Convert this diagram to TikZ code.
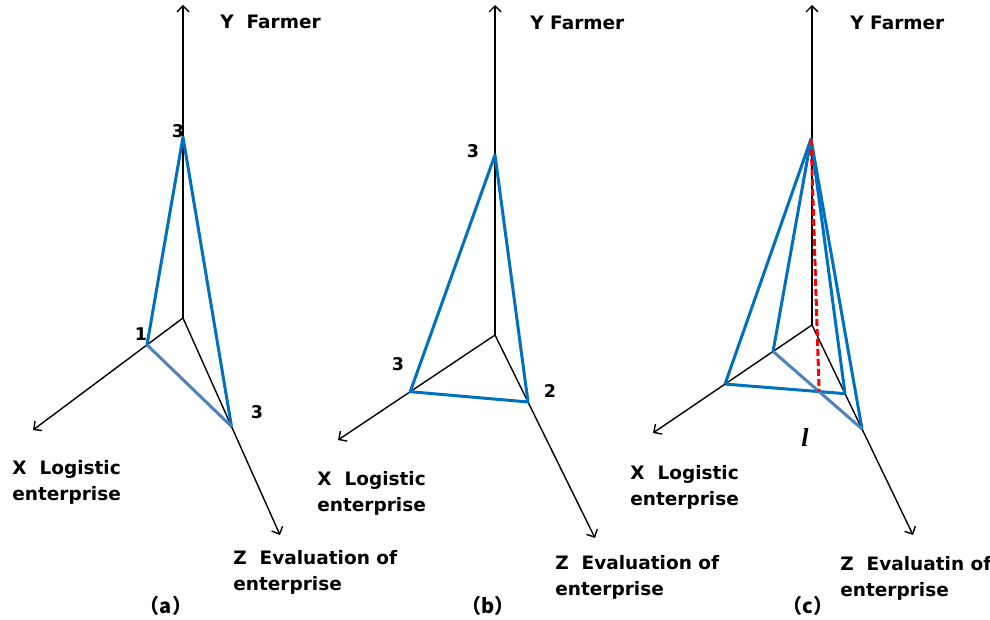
\documentclass[tikz,border=0pt]{standalone}
\usepackage{fontspec}
\setmainfont{DejaVu Sans}
\newfontfamily\cjk{Noto Sans CJK SC}
\newfontfamily\serifb{Liberation Serif}
\usetikzlibrary{arrows.meta,calc}

\definecolor{edgeblue}{RGB}{0,112,192}
\definecolor{edgesteel}{RGB}{79,129,189}
\tikzset{
  every picture/.style={line width=0.75pt},
  axis/.style={-{Straight Barb[length=6pt,width=12pt]}, line width=1.4pt},
  edge/.style={edgeblue, line width=3pt, line join=round},
  edgelight/.style={edgesteel, line width=3pt},
  dashline/.style={red, line width=3pt, dash pattern={on 7pt off 3pt}},
  lab/.style={anchor=north west, inner sep=0pt, align=left, font=\bfseries\fontsize{18.5}{26}\selectfont},
  num/.style={inner sep=0pt, font=\bfseries\fontsize{17.5}{20}\selectfont},
  subcap/.style={inner sep=0pt, font=\cjk\bfseries\fontsize{20}{24}\selectfont}
}

\begin{document}
\begin{tikzpicture}[x=1pt, y=-1pt]
    \useasboundingbox (0,0) rectangle (990,620);

    % (a)
    \coordinate (Oa) at (183,318);
    \coordinate (Ya) at (183,5);
    \coordinate (Xa) at (33,430);
    \coordinate (Za) at (280,535);
    \coordinate (ya) at (183,137);
    \coordinate (xa) at ($(Oa)!0.24!(Xa)$);
    \coordinate (za) at ($(Oa)!0.5!(Za)$);
    \draw[axis] (Oa) -- (Ya);
    \draw[axis] (Oa) -- (Xa);
    \draw[axis] (Oa) -- (Za);
    \draw[edge] (xa) -- (ya) -- (za);
    \draw[edgelight] (xa) -- (za);
    \node[num] (na1) at (178,131) {3};
    \node[num] (na2) at (141,334) {1};
    \node[num] (na3) at (257,412) {3};
    \node[lab] (ylaba) at (220,15) {Y~~Farmer};
    \node[lab] (xlaba) at (12,460) {X~~Logistic\\enterprise};
    \node[lab] (zlaba) at (233,550) {Z~~Evaluation of\\enterprise};
    \node[subcap] (capa) at (166,606) {（a）};

    % (b)
    \coordinate (Ob) at (495,335);
    \coordinate (Yb) at (495,5);
    \coordinate (Xb) at (338,440);
    \coordinate (Zb) at (595,538);
    \coordinate (yb) at (495,155);
    \coordinate (xb) at ($(Ob)!0.54!(Xb)$);
    \coordinate (zb) at ($(Ob)!0.33!(Zb)$);
    \draw[axis] (Ob) -- (Yb);
    \draw[axis] (Ob) -- (Xb);
    \draw[axis] (Ob) -- (Zb);
    \draw[edge] (xb) -- (yb) -- (zb) -- cycle;
    \node[num] (nb1) at (473,151) {3};
    \node[num] (nb2) at (398,364) {3};
    \node[num] (nb3) at (550,391) {2};
    \node[lab] (ylabb) at (530,16) {Y Farmer};
    \node[lab] (xlabb) at (317,471) {X~~Logistic\\enterprise};
    \node[lab] (zlabb) at (555,555) {Z~~Evaluation of\\enterprise};
    \node[subcap] (capb) at (488,606) {（b）};

    % (c)
    \coordinate (Oc) at (812,325);
    \coordinate (Yc) at (812,5);
    \coordinate (Xc) at (653,433);
    \coordinate (Zc) at (913,535);
    \coordinate (yc) at (811,139);
    \coordinate (xfar) at ($(Oc)!0.547!(Xc)$);
    \coordinate (xnear) at ($(Oc)!0.245!(Xc)$);
    \coordinate (zfar) at ($(Oc)!0.495!(Zc)$);
    \coordinate (znear) at ($(Oc)!0.327!(Zc)$);
    \coordinate (lc) at (intersection of xfar--znear and xnear--zfar);
    \draw[axis] (Oc) -- (Yc);
    \draw[axis] (Oc) -- (Xc);
    \draw[axis] (Oc) -- (Zc);
    \draw[edge] (xfar) -- (yc) -- (znear);
    \draw[edge] (xnear) -- (yc) -- (zfar);
    \draw[edge] (xfar) -- (znear);
    \draw[edgelight] (xnear) -- (zfar);
    \draw[dashline] (yc) -- (lc);
    \node[inner sep=0pt, font=\serifb\bfseries\itshape\fontsize{26}{30}\selectfont] (llab) at (805,437) {l};
    \node[lab] (ylabc) at (850,16) {Y Farmer};
    \node[lab] (xlabc) at (630,465) {X~~Logistic\\enterprise};
    \node[lab] (zlabc) at (840,556) {Z~~Evaluatin of\\enterprise};
    \node[subcap] (capc) at (808,606) {（c）};
\end{tikzpicture}
\end{document}
